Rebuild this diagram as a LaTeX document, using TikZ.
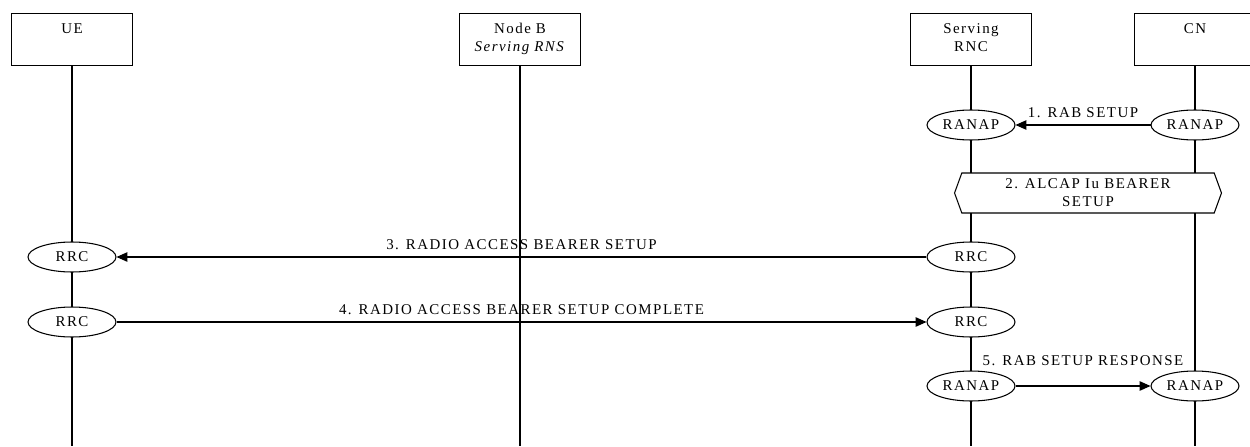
\documentclass[tikz,border=0pt]{standalone}
\usepackage{fontspec}
\setmainfont{Liberation Serif}[LetterSpace=10]
\usetikzlibrary{arrows.meta, shapes.geometric, shapes.symbols}

\begin{document}
\begin{tikzpicture}[x=0.02cm, y=-0.02cm, line width=0.6pt, font=\fontsize{8.5}{10.2}\selectfont,
  ent/.style={draw, align=center, text width=2.2cm, minimum width=2.4cm, inner ysep=0pt, text height=0.4cm, text depth=0.64cm, anchor=north},
  proto/.style={draw, ellipse, fill=white, minimum width=1.76cm, minimum height=0.6cm, inner sep=0pt},
  msg/.style={-{Triangle[length=6.2pt, width=5.4pt]}},
  lbl/.style={above, inner sep=4pt}]
  \useasboundingbox (0,0) rectangle (1250,446);
  \coordinate (bottom) at (0,446);

  \node[ent] (ue) at (72,13) {UE};
  \node[ent] (nodeb) at (520,13) {Node B\\\textit{Serving RNS}};
  \node[ent] (srnc) at (971,13) {Serving\\RNC};
  \node[ent] (cn) at (1195,13) {CN};

  \foreach \n in {ue,nodeb,srnc,cn}
    \draw (\n.south) -- (\n.south |- bottom);

  \node[proto] (srnc ranap1) at (971,125) {RANAP};
  \node[proto] (cn ranap1) at (1195,125) {RANAP};

  \node[signal, signal to=west and east, signal pointer angle=140, draw, fill=white, align=center,
    minimum width=5.34cm, minimum height=0.8cm, inner sep=0pt] (alcap) at (1088,193) {2. ALCAP Iu BEARER\\SETUP};

  \node[proto] (ue rrc3) at (72,257) {RRC};
  \node[proto] (srnc rrc3) at (971,257) {RRC};
  \node[proto] (ue rrc4) at (72,322) {RRC};
  \node[proto] (srnc rrc4) at (971,322) {RRC};
  \node[proto] (srnc ranap5) at (971,386) {RANAP};
  \node[proto] (cn ranap5) at (1195,386) {RANAP};

  \draw[msg] (cn ranap1) -- node[lbl] {1. RAB SETUP} (srnc ranap1);
  \draw[msg] (srnc rrc3) -- node[lbl] {3. RADIO ACCESS BEARER SETUP} (ue rrc3);
  \draw[msg] (ue rrc4) -- node[lbl] {4. RADIO ACCESS BEARER SETUP COMPLETE} (srnc rrc4);
  \draw[msg] (srnc ranap5) -- node[lbl, yshift=7pt] {5. RAB SETUP RESPONSE} (cn ranap5);
\end{tikzpicture}
\end{document}
